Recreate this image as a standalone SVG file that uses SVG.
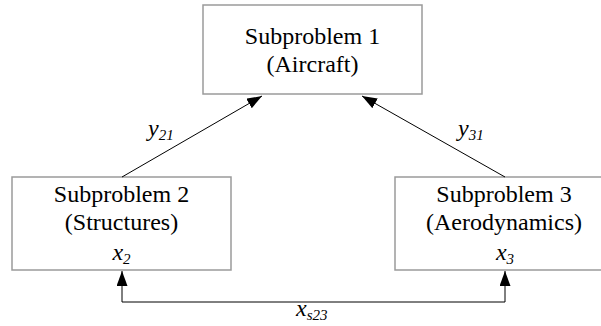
<svg xmlns="http://www.w3.org/2000/svg" width="601" height="326" viewBox="0 0 601 326">
<style>
.box{fill:#fff;stroke:#9a9a9a;stroke-width:1.5}
.t{font-family:"Liberation Serif","Times New Roman",serif;font-size:24px;fill:#000;text-anchor:middle}
.v{font-family:"Liberation Serif","Times New Roman",serif;font-size:24px;font-style:italic;fill:#000}
.s{font-size:15px}
.ln{fill:none;stroke:#000;stroke-width:1}
</style>
<defs>
<marker id="ah" viewBox="0 0 15 11" refX="15" refY="5.5" markerWidth="15" markerHeight="11" markerUnits="userSpaceOnUse" orient="auto-start-reverse">
<path d="M0,0 L15,5.5 L0,11 z" fill="#000"/>
</marker>
</defs>
<g id="n1">
<rect class="box" x="203" y="5" width="219" height="89"/>
<text class="t" x="312.5" y="44">Subproblem 1</text>
<text class="t" x="312.5" y="72">(Aircraft)</text>
</g>
<g id="n2">
<rect class="box" x="12" y="177" width="219" height="93"/>
<text class="t" x="121.5" y="202">Subproblem 2</text>
<text class="t" x="121.5" y="230">(Structures)</text>
<text class="v" x="121.5" y="260" text-anchor="middle">x<tspan class="s" dy="4">2</tspan></text>
</g>
<g id="n3">
<rect class="box" x="395" y="177" width="219" height="93"/>
<text class="t" x="504" y="202">Subproblem 3</text>
<text class="t" x="504" y="230">(Aerodynamics)</text>
<text class="v" x="505" y="260" text-anchor="middle">x<tspan class="s" dy="4">3</tspan></text>
</g>
<g id="edges">
<line class="ln" x1="122" y1="177" x2="262" y2="96" marker-end="url(#ah)"/>
<line class="ln" x1="505" y1="177" x2="362" y2="96" marker-end="url(#ah)"/>
<path class="ln" d="M122,271 L122,302 L505,302 L505,271" marker-start="url(#ah)" marker-end="url(#ah)"/>
<text class="v" x="148" y="136">y<tspan class="s" dy="4">21</tspan></text>
<text class="v" x="458" y="136">y<tspan class="s" dy="4">31</tspan></text>
<text class="v" x="296" y="316">x<tspan class="s" dy="4">s23</tspan></text>
</g>
</svg>
